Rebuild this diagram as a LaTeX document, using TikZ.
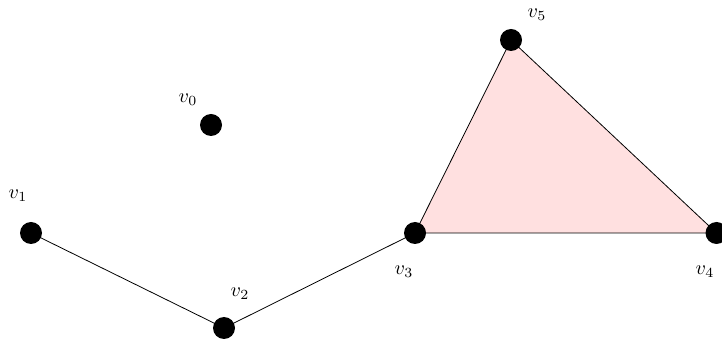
\documentclass[tikz,border=0pt]{standalone}
\usepackage{amsfonts, amsmath, amssymb}
\usetikzlibrary{calc}

\begin{document}
\begin{tikzpicture}[x=0.5pt,y=0.5pt]
  \useasboundingbox (0,0) rectangle (722,342);
  \def\r{5.5pt}
  \foreach \name/\x/\y in {
    0/211/217, 1/31/109, 2/224/14, 3/415/109, 4/716.5/109, 5/511/302}
  {
    \coordinate (v\name) at (\x,\y);
  }
  \fill[red!12] (v3) -- (v4) -- (v5) -- cycle;
  \draw (v1) -- (v2) -- (v3);
  \draw (v3) -- (v4) -- (v5) -- cycle;
  \foreach \name in {0,...,5}
    \fill[black] (v\name) circle[radius=\r];
  \foreach \name/\x/\y in {
    0/188/242, 1/18/146, 2/240/48, 3/404/70, 4/705/70, 5/537/327}
  {
    \node (l\name) at (\x,\y) {$v_{\name}$};
  }
\end{tikzpicture}
\end{document}
